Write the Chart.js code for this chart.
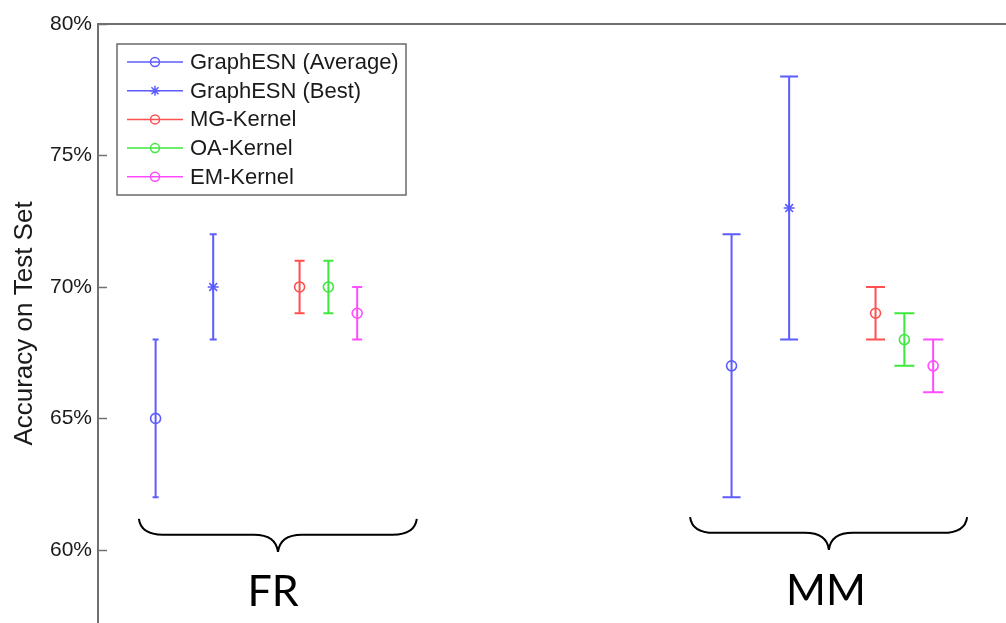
<!DOCTYPE html>
<html>
<head>
<meta charset="utf-8">
<script src="https://cdn.jsdelivr.net/npm/chart.js@4"></script>
<style>
  html, body { margin: 0; padding: 0; background: #fff; overflow: hidden; }
  #wrap { width: 1006px; height: 623px; }
</style>
</head>
<body>
<div id="wrap"><canvas id="c" width="1006" height="623"></canvas></div>
<script>
// ---- data ----
const categories = ['FR', 'MM'];
const groupX = [1, 3];
const seriesNames = ['GraphESN (Average)', 'GraphESN (Best)', 'MG-Kernel', 'OA-Kernel', 'EM-Kernel'];
const seriesOffset = [0, 0.2, 0.5, 0.6, 0.7];
const graphesnAvg = [65, 67];
const graphesnAvgErr = [3, 5];
const graphesnBest = [70, 73];
const graphesnBestErr = [2, 5];
const mgKernel = [70, 69];
const mgKernelErr = [1, 1];
const oaKernel = [70, 68];
const oaKernelErr = [1, 1];
const emKernel = [69, 67];
const emKernelErr = [1, 1];
const yTicks = [60, 65, 70, 75, 80];
const yTitle = 'Accuracy on Test Set';

// ---- styles ----
const seriesValues = [graphesnAvg, graphesnBest, mgKernel, oaKernel, emKernel];
const seriesErrs = [graphesnAvgErr, graphesnBestErr, mgKernelErr, oaKernelErr, emKernelErr];
const seriesColors = ['#5c5cff', '#5c5cff', '#ff4f4f', '#3ee83e', '#ff4cff'];
const seriesPoint = ['circle', 'star', 'circle', 'circle', 'circle'];
const capHalf = [[3, 3.5, 5, 5, 5], [9, 9, 9.5, 10, 10]];

const datasets = seriesNames.map((name, i) => ({
  label: name,
  data: categories.map((c, g) => ({ x: groupX[g] + seriesOffset[i], y: seriesValues[i][g] })),
  err: seriesErrs[i],
  showLine: false,
  pointStyle: seriesPoint[i],
  pointRadius: seriesPoint[i] === 'star' ? 5.5 : 5,
  pointBorderWidth: 1.6,
  borderColor: seriesColors[i],
  backgroundColor: 'rgba(0,0,0,0)',
  pointBackgroundColor: 'rgba(0,0,0,0)'
}));

const axisGray = '#707070';

const errorBarPlugin = {
  id: 'errorBars',
  beforeDatasetsDraw(chart) {
    const ctx = chart.ctx;
    const y = chart.scales.y;
    ctx.save();
    chart.data.datasets.forEach((ds, i) => {
      const meta = chart.getDatasetMeta(i);
      meta.data.forEach((pt, j) => {
        const v = ds.data[j].y, e = ds.err[j];
        const yHi = y.getPixelForValue(v + e);
        const yLo = y.getPixelForValue(v - e);
        const x = pt.x;
        const hw = capHalf[j][i];
        ctx.strokeStyle = ds.borderColor;
        ctx.lineWidth = 2;
        ctx.beginPath();
        ctx.moveTo(x, yHi); ctx.lineTo(x, yLo);
        ctx.moveTo(x - hw, yHi); ctx.lineTo(x + hw, yHi);
        ctx.moveTo(x - hw, yLo); ctx.lineTo(x + hw, yLo);
        ctx.stroke();
      });
    });
    ctx.restore();
  }
};

// braces and group labels (positions in data units)
const braceFrom = [0.942, 2.856];
const braceTo = [1.907, 3.818];
const braceTip = [1.425, 3.338];
const braceTopY = [61.18, 61.25];
const braceMidY = [60.58, 60.65];
const braceTipY = [59.92, 60.0];
const labelX = [1.408, 3.328];
const labelY = [57.85, 57.92];

const framePlugin = {
  id: 'frame',
  afterDraw(chart) {
    const ctx = chart.ctx;
    const ca = chart.chartArea;
    const xs = chart.scales.x, ys = chart.scales.y;
    ctx.save();
    // top frame line
    ctx.strokeStyle = axisGray;
    ctx.lineWidth = 2;
    ctx.beginPath();
    ctx.moveTo(ca.left, ca.top);
    ctx.lineTo(ca.right, ca.top);
    ctx.stroke();
    // inward ticks
    ctx.lineWidth = 1.5;
    yTicks.forEach(v => {
      const py = Math.round(ys.getPixelForValue(v)) + 0.5;
      ctx.beginPath();
      ctx.moveTo(ca.left, py);
      ctx.lineTo(ca.left + 9, py);
      ctx.stroke();
    });

    // legend
    const lx = 117, ly = 44, lw = 289, lh = 151;
    ctx.fillStyle = '#fff';
    ctx.fillRect(lx, ly, lw, lh);
    ctx.strokeStyle = '#6a6a6a';
    ctx.lineWidth = 1.5;
    ctx.strokeRect(lx, ly, lw, lh);
    ctx.font = '22px "Liberation Sans", Arial, sans-serif';
    ctx.textBaseline = 'middle';
    ctx.textAlign = 'left';
    chart.data.datasets.forEach((ds, i) => {
      const ry = 62 + i * 28.7;
      ctx.strokeStyle = ds.borderColor;
      ctx.lineWidth = 1.5;
      ctx.beginPath();
      ctx.moveTo(127, ry); ctx.lineTo(183, ry);
      ctx.stroke();
      ctx.fillStyle = 'rgba(0,0,0,0)';
      Chart.helpers.drawPoint(ctx, {
        pointStyle: ds.pointStyle, radius: ds.pointStyle === 'star' ? 5 : 4.5, borderWidth: 1.5, rotation: 0
      }, 155, ry);
      ctx.fillStyle = '#1a1a1a';
      ctx.fillText(ds.label, 190, ry + 1);
    });

    // braces
    ctx.strokeStyle = '#000';
    ctx.lineWidth = 2;
    categories.forEach((c, g) => {
      const xl = xs.getPixelForValue(braceFrom[g]);
      const xr = xs.getPixelForValue(braceTo[g]);
      const xm = xs.getPixelForValue(braceTip[g]);
      const yt = ys.getPixelForValue(braceTopY[g]);
      const ym = ys.getPixelForValue(braceMidY[g]);
      const yp = ys.getPixelForValue(braceTipY[g]);
      const r = 24;
      ctx.beginPath();
      ctx.moveTo(xl, yt);
      ctx.quadraticCurveTo(xl + 2, ym, xl + r, ym);
      ctx.lineTo(xm - r, ym);
      ctx.quadraticCurveTo(xm - 2, ym, xm, yp);
      ctx.moveTo(xr, yt);
      ctx.quadraticCurveTo(xr - 2, ym, xr - r, ym);
      ctx.lineTo(xm + r, ym);
      ctx.quadraticCurveTo(xm + 2, ym, xm, yp);
      ctx.stroke();
      // labels
      ctx.fillStyle = '#000';
      ctx.font = '43px Lato, "Open Sans", sans-serif';
      ctx.textAlign = 'center';
      ctx.textBaseline = 'alphabetic';
      ctx.fillText(c, xs.getPixelForValue(labelX[g]), ys.getPixelForValue(labelY[g]));
    });
    ctx.restore();
  }
};

new Chart(document.getElementById('c'), {
  type: 'scatter',
  data: { datasets },
  options: {
    responsive: false,
    animation: false,
    events: [],
    layout: { autoPadding: false, padding: { top: 24, left: 0, right: 0, bottom: 0 } },
    plugins: { legend: { display: false }, tooltip: { enabled: false } },
    scales: {
      x: {
        type: 'linear', min: 0.8, max: 3.953, display: false
      },
      y: {
        type: 'linear', min: 57.22, max: 80,
        afterFit(scale) {
          scale.width = 98;
          scale.paddingTop = 0; scale.paddingBottom = 0;
          scale.paddingLeft = 0; scale.paddingRight = 0;
        },
        afterBuildTicks(scale) { scale.ticks = yTicks.map(v => ({ value: v })); },
        grid: { display: false, drawTicks: false },
        border: { display: true, color: axisGray, width: 2 },
        ticks: {
          padding: 6,
          color: '#1a1a1a',
          font: { family: '"Liberation Sans", Arial, sans-serif', size: 21 },
          callback: v => v + '%'
        },
        title: {
          display: true, text: yTitle, color: '#1a1a1a',
          font: { family: '"Liberation Sans", Arial, sans-serif', size: 26 },
          padding: { top: 9, bottom: 0 }
        }
      }
    }
  },
  plugins: [errorBarPlugin, framePlugin]
});
</script>
</body>
</html>
